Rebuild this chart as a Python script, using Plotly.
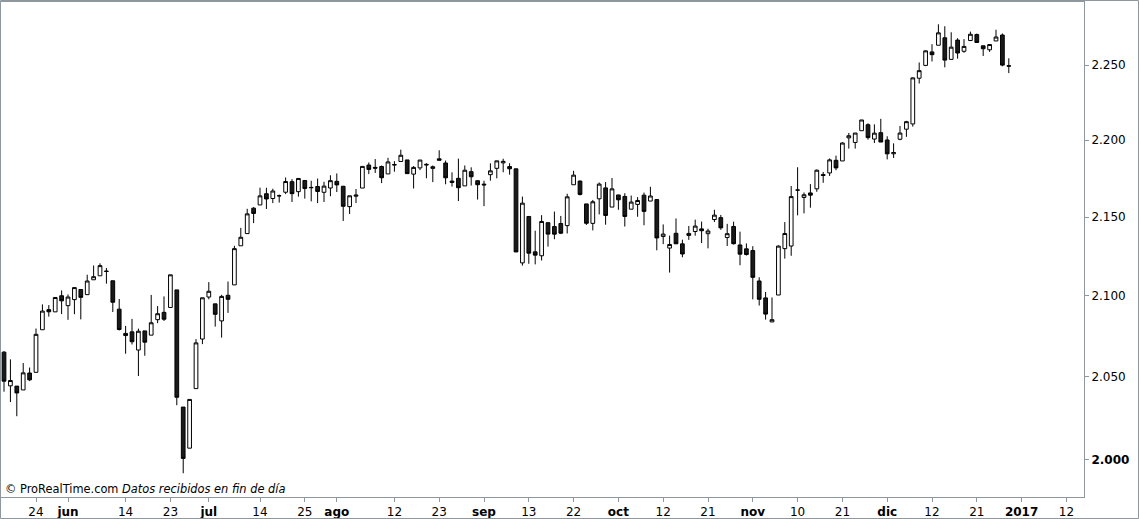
import pandas as pd
import plotly.graph_objects as go

# trading calendar (NYSE holidays removed), runs a bit past the data for the future ticks
holidays = ["2016-05-30", "2016-07-04", "2016-09-05", "2016-11-24", "2016-12-26", "2017-01-02"]
calendar = [d for d in pd.bdate_range("2016-05-17", "2017-01-13") if d.strftime("%Y-%m-%d") not in holidays]

opens = [2065.04, 2044.38, 2044.21, 2041.88, 2052.23, 2052.65, 2078.93, 2091.44, 2090.06, 2100.13,
         2093.94, 2097.71, 2104.07, 2100.83, 2110.18, 2112.71, 2115.65, 2109.57, 2091.75, 2076.65,
         2077.60, 2066.36, 2078.20, 2075.58, 2085.19, 2089.75, 2092.80, 2103.81, 2031.45, 2006.67,
         2042.69, 2073.17,
         2099.34, 2095.05, 2084.43, 2100.42, 2106.97, 2131.72, 2139.50, 2155.81, 2157.88, 2165.13,
         2162.04, 2163.79, 2166.10, 2172.91, 2166.47, 2173.71, 2168.97, 2169.81, 2166.05, 2168.83,
         2173.15, 2169.94, 2156.81, 2163.51, 2168.79, 2183.76, 2182.24, 2182.81, 2177.97, 2183.74,
         2186.08, 2187.09, 2177.84, 2181.90, 2184.24, 2181.58, 2187.81, 2185.09, 2173.29, 2175.10,
         2170.19, 2179.45, 2173.56,
         2171.33, 2177.49, 2181.61, 2185.17, 2182.76, 2181.30, 2120.86, 2150.47, 2127.86, 2125.36,
         2146.48, 2143.99, 2145.94, 2144.58, 2170.94, 2173.29, 2158.54, 2146.04, 2161.85, 2168.90,
         2156.51,
         2164.33, 2163.37, 2155.15, 2158.22, 2164.19, 2160.39, 2161.35, 2137.67, 2130.26, 2139.68,
         2132.95, 2138.31, 2140.81, 2142.51, 2139.43, 2148.50, 2149.72, 2136.97, 2144.06, 2132.23,
         2129.78,
         2128.68, 2109.43, 2098.80, 2083.79, 2100.59, 2129.92, 2131.56, 2167.49, 2162.71, 2165.64,
         2168.29, 2177.53, 2178.61, 2186.85, 2186.43, 2201.56, 2198.55, 2206.27, 2210.21, 2200.76,
         2204.97,
         2200.17, 2191.12, 2200.65, 2207.26, 2210.72, 2241.13, 2249.73, 2258.83, 2263.32, 2268.35,
         2253.77, 2266.81, 2259.24, 2266.50, 2270.54, 2262.93, 2260.25, 2266.23, 2270.23, 2249.50]

highs = [2065.69, 2060.61, 2044.21, 2058.35, 2055.58, 2079.67, 2094.73, 2094.30, 2099.06, 2103.48,
         2100.97, 2105.26, 2104.07, 2113.36, 2119.22, 2120.55, 2117.64, 2109.57, 2098.12, 2081.30,
         2085.65, 2079.62, 2078.20, 2100.66, 2093.66, 2099.71, 2113.32, 2103.81, 2031.45, 2036.09,
         2073.13, 2098.94,
         2108.71, 2095.05, 2100.72, 2109.08, 2131.71, 2143.16, 2155.40, 2156.45, 2169.05, 2168.99,
         2168.35, 2164.63, 2175.63, 2174.56, 2175.11, 2173.71, 2173.54, 2174.98, 2172.85, 2177.09,
         2178.29, 2170.20, 2163.79, 2168.19, 2182.87, 2185.44, 2187.66, 2183.41, 2188.45, 2186.28,
         2193.81, 2187.09, 2183.08, 2187.03, 2185.00, 2183.47, 2193.42, 2186.66, 2179.00, 2187.94,
         2183.48, 2182.27, 2173.79,
         2173.56, 2184.87, 2186.57, 2187.87, 2184.94, 2181.30, 2163.30, 2150.47, 2141.33, 2151.31,
         2146.48, 2153.61, 2150.80, 2165.11, 2179.99, 2173.75, 2158.54, 2161.13, 2172.40, 2172.67,
         2175.30,
         2164.41, 2165.46, 2163.95, 2162.93, 2165.86, 2169.60, 2161.56, 2145.36, 2138.19, 2149.19,
         2135.61, 2144.38, 2148.44, 2147.18, 2142.63, 2154.79, 2151.44, 2145.73, 2147.13, 2140.72,
         2133.25,
         2131.45, 2111.76, 2102.56, 2099.07, 2132.00, 2146.87, 2170.10, 2182.30, 2165.92, 2171.36,
         2180.84, 2179.22, 2188.06, 2189.89, 2198.70, 2204.80, 2204.72, 2213.35, 2211.14, 2210.46,
         2214.10,
         2202.60, 2197.95, 2209.42, 2212.78, 2241.63, 2251.69, 2259.80, 2264.03, 2277.53, 2276.20,
         2272.12, 2268.05, 2267.47, 2272.56, 2271.23, 2263.18, 2263.79, 2273.82, 2271.31, 2254.51]

lows = [2040.82, 2034.49, 2025.91, 2041.88, 2047.26, 2052.65, 2078.93, 2087.08, 2090.06, 2088.66,
        2085.10, 2088.59, 2085.36, 2100.83, 2110.18, 2112.71, 2107.73, 2089.96, 2078.46, 2064.10,
        2069.80, 2050.37, 2062.84, 2075.58, 2083.02, 2084.36, 2092.80, 2032.57, 1991.68, 2006.67,
        2042.69, 2070.00,
        2097.90, 2080.86, 2074.02, 2089.39, 2106.97, 2131.72, 2139.50, 2146.21, 2157.88, 2155.29,
        2159.07, 2159.40, 2164.89, 2159.75, 2163.24, 2161.95, 2160.18, 2159.07, 2159.74, 2163.49,
        2166.21, 2147.58, 2152.02, 2159.07, 2168.79, 2177.85, 2178.61, 2172.00, 2177.97, 2179.42,
        2186.08, 2178.15, 2168.50, 2180.46, 2175.13, 2172.63, 2186.80, 2171.25, 2169.74, 2160.39,
        2170.19, 2170.41, 2161.35,
        2157.09, 2173.59, 2175.10, 2179.07, 2177.49, 2127.81, 2119.12, 2120.27, 2119.90, 2122.36,
        2131.20, 2135.91, 2139.17, 2139.57, 2170.94, 2163.97, 2145.04, 2141.55, 2151.79, 2145.20,
        2156.51,
        2154.77, 2144.01, 2155.15, 2150.28, 2144.85, 2160.39, 2128.84, 2132.77, 2114.72, 2132.98,
        2124.43, 2135.49, 2138.15, 2133.44, 2130.09, 2146.91, 2141.93, 2131.59, 2132.52, 2119.36,
        2125.53,
        2097.85, 2094.00, 2085.23, 2083.79, 2100.59, 2123.56, 2125.35, 2151.17, 2152.49, 2156.08,
        2166.38, 2172.20, 2176.65, 2180.38, 2186.43, 2194.51, 2194.51, 2206.27, 2200.36, 2198.15,
        2198.81,
        2187.44, 2188.37, 2199.97, 2202.21, 2208.93, 2237.57, 2249.23, 2252.37, 2263.32, 2248.44,
        2253.77, 2254.24, 2258.21, 2266.14, 2265.15, 2256.08, 2258.84, 2266.15, 2249.11, 2244.56]

closes = [2047.21, 2047.63, 2040.04, 2052.32, 2048.04, 2076.06, 2090.54, 2090.10, 2099.06, 2096.95,
          2099.33, 2105.26, 2099.13, 2109.41, 2112.13, 2119.12, 2115.48, 2096.07, 2079.06, 2075.32,
          2071.50, 2077.99, 2071.22, 2083.25, 2088.90, 2085.45, 2113.32, 2037.41, 2000.54, 2036.09,
          2070.77, 2098.86,
          2102.95, 2088.55, 2099.73, 2097.90, 2129.90, 2137.16, 2152.14, 2152.43, 2163.75, 2161.74,
          2166.89, 2163.78, 2173.02, 2165.17, 2175.03, 2168.48, 2169.18, 2166.58, 2170.06, 2173.60,
          2170.84, 2157.03, 2163.79, 2164.25, 2182.87, 2180.89, 2181.74, 2175.49, 2185.79, 2184.05,
          2190.15, 2178.15, 2182.22, 2187.02, 2183.87, 2182.64, 2186.90, 2175.44, 2172.47, 2169.04,
          2180.38, 2176.12, 2170.95,
          2170.86, 2179.98, 2186.48, 2186.16, 2181.30, 2127.81, 2159.04, 2127.02, 2125.77, 2147.26,
          2139.16, 2139.12, 2139.76, 2163.12, 2177.18, 2164.69, 2146.10, 2159.93, 2171.37, 2151.13,
          2168.27,
          2161.20, 2150.49, 2159.73, 2160.77, 2153.74, 2163.66, 2136.73, 2139.18, 2132.55, 2132.98,
          2126.50, 2139.60, 2144.29, 2141.34, 2141.16, 2151.33, 2143.16, 2139.43, 2133.04, 2126.41,
          2126.15,
          2111.72, 2097.94, 2088.66, 2085.18, 2131.52, 2139.56, 2163.26, 2167.48, 2164.45, 2164.20,
          2180.39, 2176.94, 2187.12, 2181.90, 2198.18, 2202.94, 2204.72, 2213.35, 2201.72, 2204.66,
          2198.81,
          2191.08, 2191.95, 2204.71, 2212.23, 2241.35, 2246.19, 2259.53, 2256.96, 2271.72, 2253.28,
          2262.03, 2258.07, 2262.53, 2270.76, 2265.18, 2260.96, 2263.79, 2268.88, 2249.92, 2249.26]

tick_dates = ["2016-05-24", "2016-06-01", "2016-06-14", "2016-06-23", "2016-07-01", "2016-07-14",
              "2016-07-25", "2016-08-01", "2016-08-12", "2016-08-23", "2016-09-01", "2016-09-13",
              "2016-09-22", "2016-10-03", "2016-10-12", "2016-10-21", "2016-11-01", "2016-11-10",
              "2016-11-21", "2016-12-01", "2016-12-12", "2016-12-21", "2017-01-03", "2017-01-12"]
tick_labels = ["24", "<b>jun</b>", "14", "23", "<b>jul</b>", "14", "25", "<b>ago</b>", "12", "23",
               "<b>sep</b>", "13", "22", "<b>oct</b>", "12", "21", "<b>nov</b>", "10", "21",
               "<b>dic</b>", "12", "21", "<b>2017</b>", "12"]

price_ticks = [2000, 2050, 2100, 2150, 2200, 2250]
price_labels = ["<b>2.000</b>", "2.050", "2.100", "2.150", "2.200", "2.250"]

day_str = [d.strftime("%Y-%m-%d") for d in calendar]
x = list(range(len(closes)))
tickpos = [day_str.index(t) for t in tick_dates]

frame = "#8f979e"

fig = go.Figure(go.Candlestick(
    x=x, open=opens, high=highs, low=lows, close=closes,
    increasing=dict(line=dict(color="#000000", width=1), fillcolor="#ffffff"),
    decreasing=dict(line=dict(color="#000000", width=1), fillcolor="#1a1a1a"),
    whiskerwidth=0,
    hoverinfo="skip",
))

fig.update_layout(
    width=1139, height=519,
    margin=dict(l=1, r=55, t=2, b=22),
    paper_bgcolor="#ffffff", plot_bgcolor="#ffffff",
    font=dict(family="DejaVu Sans", size=12, color="#000000"),
    showlegend=False,
    boxgap=0.42, boxgroupgap=0,
    xaxis=dict(
        range=[-0.47, 168.75], rangeslider=dict(visible=False),
        tickmode="array", tickvals=tickpos, ticktext=tick_labels,
        ticks="outside", ticklen=4, tickcolor=frame,
        showline=True, linecolor=frame, linewidth=1, mirror=True,
        showgrid=False, zeroline=False, fixedrange=True,
    ),
    yaxis=dict(
        type="log", range=[3.29614, 3.360355], side="right",
        tickmode="array", tickvals=price_ticks, ticktext=price_labels,
        ticks="outside", ticklen=4, tickcolor=frame,
        showline=True, linecolor=frame, linewidth=1, mirror=True,
        showgrid=False, zeroline=False, fixedrange=True,
    ),
)

# outer border of the picture
fig.add_shape(type="rect", xref="paper", yref="paper",
              x0=-0.5 / 1083, x1=1137.5 / 1083, y0=-21.5 / 495, y1=496.5 / 495,
              line=dict(color=frame, width=1), fillcolor="rgba(0,0,0,0)", layer="above")

fig.add_annotation(xref="paper", yref="paper", x=0, y=0, xanchor="left", yanchor="bottom",
                   xshift=2, yshift=-1, showarrow=False,
                   text="© ProRealTime.com <i>Datos recibidos en fin de día</i>",
                   font=dict(family="DejaVu Sans", size=11.4, color="#000000"))

fig.write_html("out.html", config={"displayModeBar": False},
               post_script="document.body.style.margin='0px';")
